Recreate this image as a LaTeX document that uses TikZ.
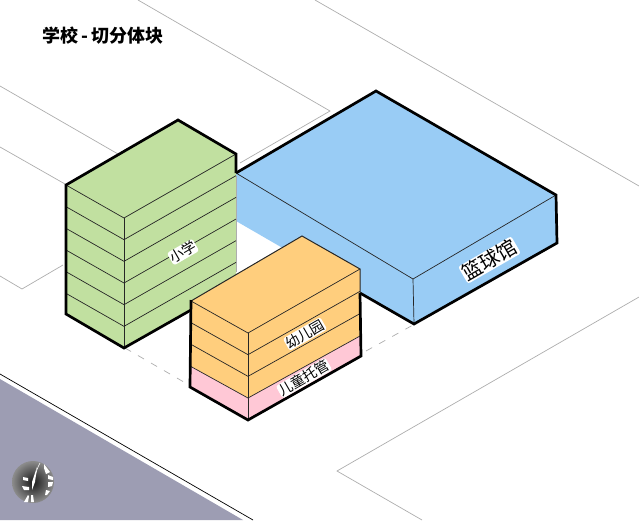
\documentclass[tikz,border=0pt]{standalone}
\usepackage{fontspec}
\usepackage{xcolor}
\newfontfamily\cjk{Noto Sans CJK SC}
\definecolor{schoolgreen}{RGB}{193,224,160}
\definecolor{gymblue}{RGB}{153,204,245}
\definecolor{kinderorange}{RGB}{255,206,125}
\definecolor{carepink}{RGB}{255,200,214}
\definecolor{roadgrey}{RGB}{157,157,179}

\begin{document}
\begin{tikzpicture}[x=1pt,y=-1pt]
\tikzset{siteline/.style={draw=black!32,line width=0.7pt}}
\tikzset{dashline/.style={siteline,dash pattern=on 7pt off 8pt}}
\tikzset{heavy/.style={draw=black,line width=2.7pt,line join=miter}}
\tikzset{light/.style={draw=black!85,line width=0.7pt}}
\tikzset{sidelabel/.style={rotate=30,fill=white,rounded corners=2.5pt,inner sep=0.6pt,text=black}}

\useasboundingbox (0,0) rectangle (639,520);

% site
\draw[siteline] (138,0) -- (330,111) -- (240,163);
\draw[siteline] (315,0) -- (639,186);
\draw[siteline] (0,86) -- (118,154);
\draw[siteline] (0,147) -- (65,184);
\draw[siteline] (0,276) -- (22,289) -- (63,265);
\draw[siteline] (639,297) -- (337,471) -- (422,520);
\draw[dashline] (125,348) -- (189,385);
\draw[dashline] (366,351) -- (413,325);

% road
\fill[roadgrey] (0,379) -- (243,520) -- (0,520) -- cycle;
\draw[black,line width=0.7pt] (0,374) -- (253,520);

% logo
\shade[inner color=black!90,outer color=black!45] (33,482) circle (21);
\fill[white] (37,467) -- (35,482) -- (32,490) -- (32,482) -- cycle;
\draw[white,line width=0.6pt] (40,463) .. controls (37,469) .. (35,477);
\fill[white] (44,464) -- (50,472) -- (46,474) -- (44,468) -- cycle;
\fill[white] (48,475) -- (53,477) -- (53,480) -- (48,479) -- cycle;
\fill[white] (48,482) -- (53,482) -- (52,486) -- (48,487) -- cycle;
\fill[white] (46,490) -- (50,491) -- (47,495) -- (45,495) -- cycle;
\fill[white] (23,477) -- (28,478) -- (28,481) -- (23,480) -- cycle;
\fill[white] (22,486) -- (29,487) -- (29,490) -- (24,490) -- cycle;
\fill[white] (28,495) -- (24,502) -- (28,502) -- (29,496) -- cycle;
\fill[white] (31,495) -- (33,495) -- (34,502) -- (31,502) -- cycle;

% gym
\fill[gymblue] (236,173) -- (376,91) -- (556,195) -- (557,243) -- (414,324) -- (236,221) -- cycle;
\draw[light] (236,173) -- (413,279) -- (556,195);
\draw[light] (413,279) -- (414,324);
\draw[heavy] (236,173) -- (376,91) -- (556,195) -- (557,243) -- (414,324) -- (360,293);
\node[sidelabel,font=\cjk\fontsize{20}{20}\selectfont] (gymlabel) at (489.5,260) {篮球馆};

% school
\fill[schoolgreen] (66,185) -- (178,120) -- (236,154) -- (236,283) -- (124,348) -- (66,314) -- cycle;
\draw[siteline] (236,176) -- (236,272);
\foreach \k in {0,...,5} {
  \draw[light] (66,185+21.67*\k) -- (124,218+21.67*\k) -- (236,154+21.67*\k);
}
\draw[light] (124,218) -- (124,348);
\draw[heavy] (236,173) -- (236,154) -- (178,120) -- (66,185) -- (66,314) -- (124,348) -- (191,310);
\node[sidelabel,font=\cjk\fontsize{14}{14}\selectfont] (schoollabel) at (183,252) {小学};

% kindergarten
\fill[kinderorange] (191,301) -- (302,236) -- (360,269) -- (360,336) -- (248,398) -- (190,366) -- cycle;
\fill[carepink] (190,366) -- (248,398) -- (360,336) -- (361,356) -- (248,420) -- (190,387) -- cycle;
\foreach \k in {0,1,2} {
  \draw[light] (191,301+21.67*\k) -- (248,333+21.67*\k) -- (360,269+22.3*\k);
}
\draw[light] (190,366) -- (248,398) -- (360,336);
\draw[light] (248,333) -- (248,420);
\draw[light,line width=1pt] (191,301) -- (302,236) -- (360,269) -- (360,293);
\draw[heavy] (191,300) -- (190,387) -- (248,420) -- (361,356) -- (360,293);
\node[sidelabel,font=\cjk\fontsize{14}{14}\selectfont] (kinderlabel) at (305,334) {幼儿园};
\node[sidelabel,font=\cjk\fontsize{14}{14}\selectfont] (carelabel) at (304,378) {儿童托管};

% title
\node[anchor=west,inner sep=0pt,font=\cjk\bfseries\fontsize{18}{18}\selectfont] (title) at (42,36) {学校\kern3pt-\kern3pt切分体块};

\end{tikzpicture}
\end{document}
